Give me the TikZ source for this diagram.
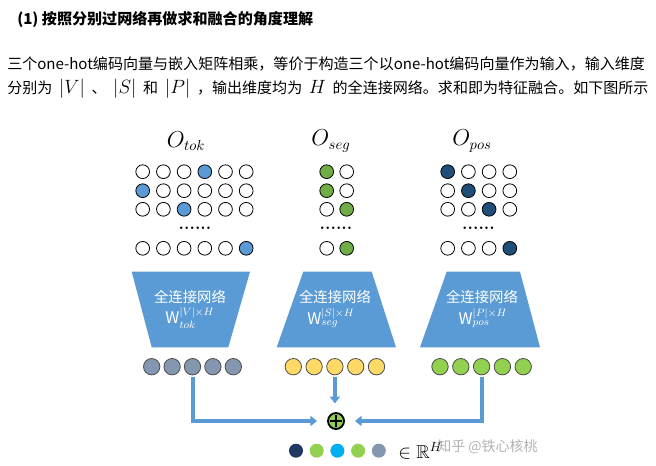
\documentclass[tikz,border=0pt]{standalone}
\usepackage{fontspec}
\usepackage{amssymb}
\newfontfamily\cjk{Noto Sans CJK SC}
\usetikzlibrary{calc,arrows.meta}
\definecolor{netblue}{HTML}{5B9BD5}
\definecolor{tokhot}{HTML}{5B9BD5}
\definecolor{seghot}{HTML}{70AD47}
\definecolor{poshot}{HTML}{1F4E79}
\definecolor{tokvec}{HTML}{8497B0}
\definecolor{segvec}{HTML}{FFD966}
\definecolor{posvec}{HTML}{92D050}
\definecolor{sumnavy}{HTML}{1F3864}
\definecolor{sumcyan}{HTML}{00B0F0}
\tikzset{>=stealth}
\tikzset{
  onehot/.style={circle,draw=black,line width=.6pt,inner sep=0pt,minimum size=10.3pt},
  vecdot/.style={circle,draw=black!70,line width=.6pt,inner sep=0pt,minimum size=12.3pt},
  sumdot/.style={circle,inner sep=0pt,minimum size=10.5pt},
  flow/.style={draw=netblue,line width=3pt,-{Triangle[length=5pt,width=7.5pt]}},
  nettext/.style={text=white,font=\cjk\fontsize{10.8}{12}\selectfont},
  nettitle/.style={text=white,font=\fontsize{12}{14}\selectfont},
  vecname/.style={font=\fontsize{16}{18}\selectfont},
  dotsrow/.style={font=\bfseries\fontsize{13}{13}\selectfont,inner sep=0pt},
  bodytext/.style={anchor=west,inner sep=0pt,font=\cjk\fontsize{11.28}{14}\selectfont},
}
\newcommand{\mth}[1]{{\fontsize{15}{16}\selectfont$#1$}}
\newcommand{\gap}{\hspace{5pt}}

\begin{document}
\begin{tikzpicture}[x=.75pt,y=-.75pt]
\useasboundingbox (0,0) rectangle (656,466);
% heading and paragraph
\node[anchor=west,inner sep=0pt,font=\cjk\bfseries\fontsize{11.3}{14}\selectfont] (head) at (17,20) {(1)\ 按照分别过网络再做求和融合的角度理解};
\node[bodytext] (line1) at (7,64) {三个one-hot编码向量与嵌入矩阵相乘，等价于构造三个以one-hot编码向量作为输入，输入维度};
\node[bodytext] (line2) at (7,89) {分别为\gap\mth{|V|}\gap 、\gap\mth{|S|}\gap 和\gap\mth{|P|}\gap ，输出维度均为\gap\mth{H}\gap 的全连接网络。求和即为特征融合。如下图所示};

% one-hot inputs
\node[vecname] (otok) at (186,141) {$O_{tok}$};
\node[vecname] (oseg) at (331,141) {$O_{seg}$};
\node[vecname] (opos) at (472,141) {$O_{pos}$};
\foreach \r/\yy/\hot in {1/171.7/4,2/190.7/1,3/209.3/3,4/248.3/6}
  \foreach \c in {1,...,6} {
    \ifnum\c=\hot \def\fc{tokhot}\else\def\fc{white}\fi
    \node[onehot,fill=\fc] (tok-\r-\c) at ({142.7+20.7*(\c-1)},\yy) {};
  }
\foreach \r/\yy/\hot in {1/171.7/1,2/190.7/1,3/209.3/2,4/248.3/2}
  \foreach \c in {1,2} {
    \ifnum\c=\hot \def\fc{seghot}\else\def\fc{white}\fi
    \node[onehot,fill=\fc] (seg-\r-\c) at ({326.7+20*(\c-1)},\yy) {};
  }
\foreach \r/\yy/\hot in {1/171.7/1,2/190.7/2,3/209.3/3,4/248.3/4}
  \foreach \c in {1,...,4} {
    \ifnum\c=\hot \def\fc{poshot}\else\def\fc{white}\fi
    \node[onehot,fill=\fc] (pos-\r-\c) at ({447.7+20.7*(\c-1)},\yy) {};
  }
\node[dotsrow] (tokdots) at (195,228) {......};
\node[dotsrow] (segdots) at (336,228) {......};
\node[dotsrow] (posdots) at (478.5,228) {......};

% fully connected layers
\fill[netblue] (131.7,271.7) -- (250,271.7) -- (228.3,347.3) -- (151.7,347.3) -- cycle;
\fill[netblue] (303.3,271.7) -- (371.7,271.7) -- (396,347.3) -- (276.7,347.3) -- cycle;
\fill[netblue] (446.7,271.7) -- (520,271.7) -- (540,347.3) -- (420,347.3) -- cycle;
\node[nettext] (toknet) at (190,297) {全连接网络};
\node[nettitle] (tokw) at (190,318) {{\cjk W}$^{|V|\times H}_{tok}$};
\node[nettext] (segnet) at (335,297) {全连接网络};
\node[nettitle] (segw) at (331,318) {{\cjk W}$^{|S|\times H}_{seg}$};
\node[nettext] (posnet) at (482,297) {全连接网络};
\node[nettitle] (posw) at (483,318) {{\cjk W}$^{|P|\times H}_{pos}$};

% embeddings
\foreach \i in {1,...,5} {
  \node[vecdot,fill=tokvec] (tokout-\i) at ({151.7+20.4*(\i-1)},366.7) {};
  \node[vecdot,fill=segvec] (segout-\i) at ({293.3+20.8*(\i-1)},366.7) {};
  \node[vecdot,fill=posvec] (posout-\i) at ({440+20.8*(\i-1)},366.7) {};
}

% sum
\node[circle,draw=black,line width=1.4pt,fill=posvec,minimum size=12pt,inner sep=0pt] (plus) at (336,421) {};
\draw[line width=.8pt] ([xshift=-4.2pt]plus.center) -- ([xshift=4.2pt]plus.center)
  ([yshift=-4.2pt]plus.center) -- ([yshift=4.2pt]plus.center);
\draw[flow] ([yshift=-1.5pt]tokout-3.south) |- ([xshift=-7.5pt]plus.west);
\draw[flow] ([yshift=-1.5pt]segout-3.south) -- ([yshift=6.5pt]segout-3.south |- plus.north);
\draw[flow] ([yshift=-1.5pt]posout-3.south) |- ([xshift=7.5pt]plus.east);

\foreach \i/\c in {1/sumnavy,2/posvec,3/sumcyan,4/posvec,5/tokvec}
  \node[sumdot,fill=\c] (sum-\i) at ({296+20.7*(\i-1)},450.7) {};
\node[anchor=west,inner sep=0pt,font=\fontsize{14}{16}\selectfont] (space) at (398,451) {$\in\mathbb{R}^H$};
\node[anchor=west,inner sep=0pt,text=black!30,font=\cjk\fontsize{10.5}{12}\selectfont] (mark) at (437,447) {知乎 @铁心核桃};
\end{tikzpicture}
\end{document}
